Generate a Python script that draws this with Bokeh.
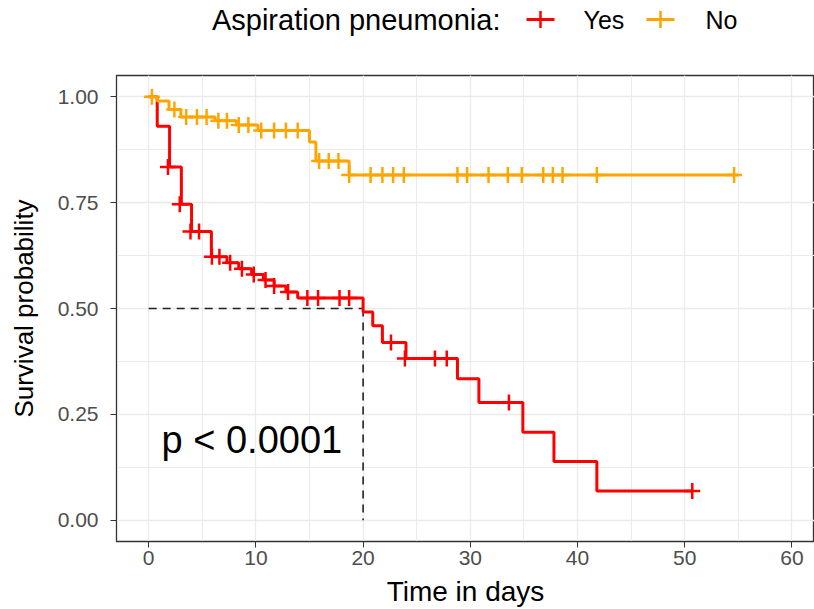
import numpy as np
from bokeh.plotting import figure
from bokeh.layouts import column
from bokeh.models import Range1d, SingleIntervalTicker, PrintfTickFormatter, Label
from bokeh.core.properties import value
from bokeh.embed import file_html
from bokeh.resources import INLINE

# ---- data ----
groups = ["Yes", "No"]
legend_title = "Aspiration pneumonia:"

yes_time = [0, 0.8, 1.95, 3.05, 4.0, 5.85, 7.3, 8.4, 9.6, 10.7, 11.7, 12.8, 13.9,
            20.0, 20.9, 21.8, 24.0, 28.8, 30.8, 34.9, 37.8, 41.8, 50.8]
yes_surv = [1.0, 0.93, 0.834, 0.746, 0.682, 0.622, 0.608, 0.594, 0.580, 0.567, 0.553, 0.539, 0.525,
            0.492, 0.459, 0.42, 0.382, 0.334, 0.278, 0.208, 0.139, 0.069, 0.069]
yes_cens_time = [1.8, 2.9, 3.9, 4.7, 5.9, 6.6, 7.6, 8.7, 9.8, 10.9, 11.7, 13.0, 14.8, 15.8,
                 17.8, 18.7, 22.6, 23.9, 26.7, 27.8, 33.6, 50.7]
yes_cens_surv = [0.834, 0.746, 0.682, 0.682, 0.622, 0.622, 0.608, 0.594, 0.580, 0.567, 0.553, 0.539,
                 0.525, 0.525, 0.525, 0.525, 0.42, 0.382, 0.382, 0.382, 0.278, 0.069]

no_time = [0, 0.8, 1.9, 3.0, 6.2, 8.2, 10.2, 15.0, 15.6, 18.7, 55.0]
no_surv = [1.0, 0.99, 0.97, 0.952, 0.943, 0.933, 0.92, 0.893, 0.848, 0.815, 0.815]
no_cens_time = [0.3, 2.4, 3.5, 4.5, 5.4, 6.5, 7.3, 8.4, 9.3, 10.5, 11.7, 12.8, 13.9, 15.9, 16.8,
                17.7, 18.7, 20.7, 21.8, 22.8, 23.8, 28.8, 29.7, 31.7, 33.5, 34.8, 36.8, 37.7,
                38.6, 41.8, 54.6]
no_cens_surv = [1.0, 0.97, 0.952, 0.952, 0.952, 0.943, 0.943, 0.933, 0.933, 0.92, 0.92, 0.92, 0.92,
                0.848, 0.848, 0.848, 0.815, 0.815, 0.815, 0.815, 0.815, 0.815, 0.815, 0.815,
                0.815, 0.815, 0.815, 0.815, 0.815, 0.815, 0.815]

pval_text = "p < 0.0001"
x_ticks_interval = 10
y_ticks_interval = 0.25

RED = "#FF0000"
ORANGE = "#FFA500"
FONT = "Liberation Sans"

# ---- legend strip (coordinates = canvas pixels; frame aligned with main plot) ----
lf = figure(width=814, height=50, x_range=Range1d(116, 814), y_range=Range1d(50, 0),
            output_backend="svg", toolbar_location=None,
            min_border_left=116, min_border_right=0, min_border_top=0, min_border_bottom=0)
lf.axis.visible = False
lf.grid.visible = False
lf.outline_line_color = None
lf.text(x=[500], y=[19], text=[legend_title], text_align="right", text_baseline="middle",
        text_font=value(FONT), text_font_size="29px", text_color="black")
key_x = [540, 660]
lab_x = [583, 705]
for gx, lx, col, name in zip(key_x, lab_x, [RED, ORANGE], groups):
    lf.line([gx - 14, gx + 14], [19, 19], line_color=col, line_width=3)
    lf.scatter([gx], [19], marker="cross", size=17, line_color=col, line_width=2.5)
    lf.text(x=[lx], y=[19], text=[name], text_align="left", text_baseline="middle",
            text_font=value(FONT), text_font_size="25px", text_color="black")

# ---- main plot ----
p = figure(width=814, height=559, x_range=Range1d(-3, 62.1), y_range=Range1d(-0.05, 1.05),
           output_backend="svg", toolbar_location=None,
           min_border_left=116, min_border_right=0, min_border_top=25, min_border_bottom=68)
p.background_fill_color = "white"
p.border_fill_color = "white"
p.outline_line_color = "#333333"
p.outline_line_width = 1.3

p.xaxis.ticker = SingleIntervalTicker(interval=x_ticks_interval, num_minor_ticks=2)
p.yaxis.ticker = SingleIntervalTicker(interval=y_ticks_interval, num_minor_ticks=2)
p.yaxis.formatter = PrintfTickFormatter(format="%.2f")

for ax in (p.xaxis[0], p.yaxis[0]):
    ax.axis_line_color = "#333333"
    ax.major_tick_line_color = "#333333"
    ax.major_tick_out = 6
    ax.major_tick_in = 0
    ax.minor_tick_out = 0
    ax.minor_tick_in = 0
    ax.major_label_text_font = FONT
    ax.major_label_text_font_size = "21px"
    ax.major_label_text_color = "#4D4D4D"
    ax.axis_label_text_font = FONT
    ax.axis_label_text_font_style = "normal"
    ax.axis_label_text_color = "black"

p.xaxis.axis_label = "Time in days"
p.xaxis.axis_label_text_font_size = "28px"
p.xaxis.major_label_standoff = 3
p.xaxis.axis_label_standoff = 8
p.yaxis.axis_label = "Survival probability"
p.yaxis.axis_label_text_font_size = "26px"
p.yaxis.major_label_standoff = 12
p.yaxis.axis_label_standoff = 16

for g in (p.xgrid[0], p.ygrid[0]):
    g.grid_line_color = "#EBEBEB"
    g.grid_line_width = 1.3
    g.minor_grid_line_color = "#EBEBEB"
    g.minor_grid_line_width = 1.0

# median dashed guide
yt = np.array(yes_time)
ys = np.array(yes_surv)
median_t = float(yt[np.argmax(ys <= 0.5)])
p.line([0, median_t], [0.5, 0.5], line_color="#222222", line_width=1.6, line_dash="8 6")
p.line([median_t, median_t], [0.5, 0], line_color="#222222", line_width=1.6, line_dash="8 6")

# curves
p.step(yes_time, yes_surv, mode="after", line_color=RED, line_width=3)
p.scatter(yes_cens_time, yes_cens_surv, marker="cross", size=16, line_color=RED, line_width=2.5)
p.step(no_time, no_surv, mode="after", line_color=ORANGE, line_width=3)
p.scatter(no_cens_time, no_cens_surv, marker="cross", size=16, line_color=ORANGE, line_width=2.5)

p.add_layout(Label(x=1.2, y=0.19, text=pval_text, text_font=FONT, text_font_size="38px",
                   text_color="black", text_baseline="middle", text_align="left"))

layout = column(lf, p, spacing=0)
open("out.html", "w").write(file_html(layout, INLINE))
